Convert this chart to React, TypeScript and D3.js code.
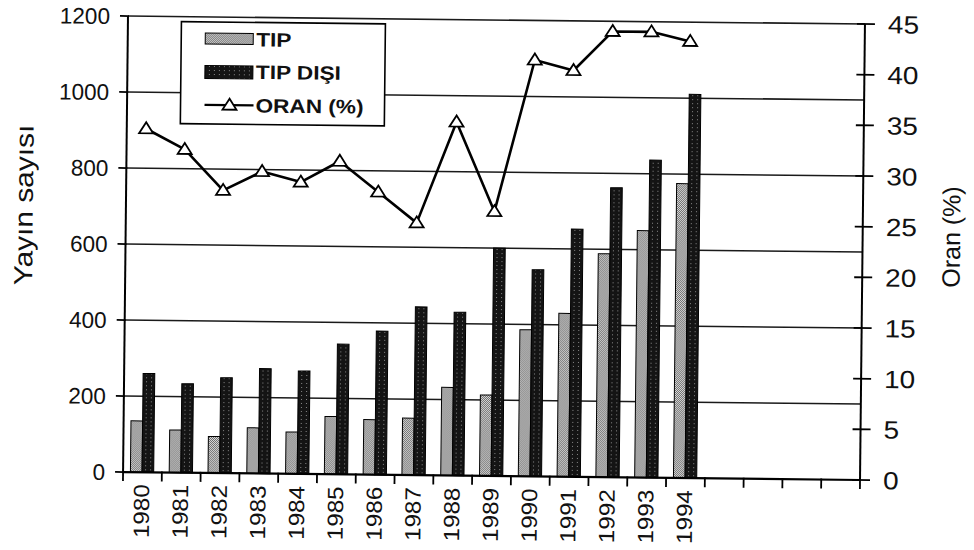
import React from 'react';
import * as d3 from 'd3';

const years = ['1980', '1981', '1982', '1983', '1984', '1985', '1986', '1987', '1988', '1989', '1990', '1991', '1992', '1993', '1994'];
const tip = [135, 112, 96, 120, 110, 152, 145, 150, 232, 213, 386, 430, 588, 650, 775];
const tipDisi = [260, 234, 251, 276, 271, 343, 378, 443, 430, 600, 544, 652, 762, 836, 1010];
const oran = [33.9, 31.9, 27.9, 29.8, 28.8, 30.9, 27.9, 24.9, 34.9, 26.1, 41.1, 40.1, 44.0, 44.0, 43.1];
const emptySlots = 4;
const leftTicks = [0, 200, 400, 600, 800, 1000, 1200];
const rightTicks = [0, 5, 10, 15, 20, 25, 30, 35, 40, 45];
const seriesKeys = ['tip', 'disi'];
const legendLabels = ['TIP', 'TIP DIŞI', 'ORAN (%)'];
const leftTitle = 'Yayın sayısı';
const rightTitle = 'Oran (%)';

export default function App() {
  const W = 974, H = 550;
  const L = 125.5, R = 862.5, T = 20, B = 476;
  const slots = d3.range(years.length + emptySlots);
  const x = d3.scaleBand<number>().domain(slots).range([L, R]).padding(0);
  const bw = x.bandwidth();
  const sub = d3.scaleBand<string>().domain(seriesKeys).range([bw * 0.19, bw * 0.79]).padding(0);
  const yL = d3.scaleLinear().domain([0, 1200]).range([B, T]);
  const yR = d3.scaleLinear().domain([0, 45]).range([B, T]);
  const cx = (i: number) => (x(i) as number) + bw / 2;
  const line = d3.line<number>().x((_, i) => cx(i)).y((d) => yR(d));
  const tri = 'M0,-6.5L7,4.5L-7,4.5Z';
  const font = '"Liberation Sans", Arial, sans-serif';
  const valuesBy: Record<string, number[]> = { tip, disi: tipDisi };
  const fills: Record<string, string> = { tip: 'url(#tipPat)', disi: 'url(#disiPat)' };

  // legend layout
  const lgX = 179, lgY = 25, lgW = 204, lgH = 102;
  const rowY = [42, 74.5, 108];

  return (
    <svg width={W} height={H} style={{ position: 'absolute', left: 0, top: 0, background: '#fff' }} fontFamily={font}>
      <defs>
        <pattern id="tipPat" width={2} height={2} patternUnits="userSpaceOnUse">
          <rect width={2} height={2} fill="#dcdcdc" />
          <rect width={1} height={1} fill="#6a6a6a" />
          <rect x={1} y={1} width={1} height={1} fill="#6a6a6a" />
        </pattern>
        <pattern id="disiPat" width={5} height={4} patternUnits="userSpaceOnUse">
          <rect width={5} height={4} fill="#141414" />
          <rect x={2} y={1} width={1} height={1} fill="#8a8a8a" />
        </pattern>
      </defs>
      <rect width={W} height={H} fill="#fff" />
      <g transform="rotate(0.62, 491, 248)">
        {/* gridlines */}
        {leftTicks.filter((t) => t > 0).map((t) => (
          <line key={'g' + t} x1={L} x2={R} y1={yL(t)} y2={yL(t)} stroke="#1a1a1a" strokeWidth={1.6} />
        ))}
        {/* bars */}
        {years.map((yr, i) => (
          <g key={yr} transform={`translate(${x(i)},0)`}>
            {seriesKeys.map((k) => (
              <rect key={k} x={sub(k)} width={sub.bandwidth()} y={yL(valuesBy[k][i])}
                height={B - yL(valuesBy[k][i])} fill={fills[k]} stroke="#000" strokeWidth={1} />
            ))}
          </g>
        ))}
        {/* axes */}
        <line x1={L} x2={L} y1={T} y2={B} stroke="#000" strokeWidth={2} />
        <line x1={R} x2={R} y1={T} y2={B} stroke="#000" strokeWidth={2} />
        <line x1={L} x2={R} y1={B} y2={B} stroke="#000" strokeWidth={2.2} />
        {leftTicks.map((t) => (
          <g key={'lt' + t}>
            <line x1={L - 8} x2={L + 1} y1={yL(t)} y2={yL(t)} stroke="#000" strokeWidth={1.8} />
            <text x={L - 18} y={yL(t)} dy="0.36em" textAnchor="end" fontSize={22.5} fill="#111">{t}</text>
          </g>
        ))}
        {rightTicks.map((t) => (
          <g key={'rt' + t}>
            <line x1={R - 8} x2={R + 10} y1={yR(t)} y2={yR(t)} stroke="#000" strokeWidth={1.8} />
            <g transform={`translate(${R + 23},${yR(t)}) scale(1.12,1)`}>
              <text x={0} y={0} dy="0.36em" textAnchor="start" fontSize={25} fill="#111">{t}</text>
            </g>
          </g>
        ))}
        {slots.concat([slots.length]).map((s) => {
          const xx = s < slots.length ? (x(s) as number) : R;
          return <line key={'xt' + s} x1={xx} x2={xx} y1={B - 1} y2={B + 9} stroke="#000" strokeWidth={1.8} />;
        })}
        {years.map((yr, i) => (
          <g key={'xl' + yr} transform={`translate(${cx(i) - 1},${B + 12}) rotate(-90) scale(1.1,1)`}>
            <text x={0} y={0} dy="0.36em" textAnchor="end" fontSize={22} fill="#111">{yr}</text>
          </g>
        ))}
        {/* titles */}
        <g transform={`translate(23,210) rotate(-90) scale(1.15,1)`}>
          <text x={0} y={0} dy="0.36em" textAnchor="middle" fontSize={26} fill="#111">{leftTitle}</text>
        </g>
        <g transform={`translate(951,232) rotate(-90)`}>
          <text x={0} y={0} dy="0.36em" textAnchor="middle" fontSize={25} fill="#111">{rightTitle}</text>
        </g>
        {/* line */}
        <path d={line(oran) || ''} fill="none" stroke="#000" strokeWidth={2.6} strokeLinejoin="round" />
        {oran.map((v, i) => (
          <path key={'m' + i} d={tri} transform={`translate(${cx(i)},${yR(v)})`} fill="#fff" stroke="#000" strokeWidth={1.8} />
        ))}
        {/* legend */}
        <rect x={lgX} y={lgY} width={lgW} height={lgH} fill="#fff" stroke="#000" strokeWidth={1.6} />
        {seriesKeys.map((k, j) => (
          <rect key={'lg' + k} x={lgX + 24} y={rowY[j] - 6} width={48} height={j === 0 ? 11 : 13} fill={fills[k]} stroke="#000" strokeWidth={1} />
        ))}
        <line x1={lgX + 24} x2={lgX + 73} y1={rowY[2]} y2={rowY[2]} stroke="#000" strokeWidth={2.4} />
        <path d={tri} transform={`translate(${lgX + 49},${rowY[2]})`} fill="#fff" stroke="#000" strokeWidth={1.8} />
        {legendLabels.map((lab, j) => (
          <g key={'ll' + j} transform={`translate(${lgX + 75},${rowY[j]}) scale(1.16,1)`}>
            <text x={0} y={0} dy="0.36em" fontSize={19.5} fontWeight="bold" fill="#111">{lab}</text>
          </g>
        ))}
      </g>
    </svg>
  );
}
